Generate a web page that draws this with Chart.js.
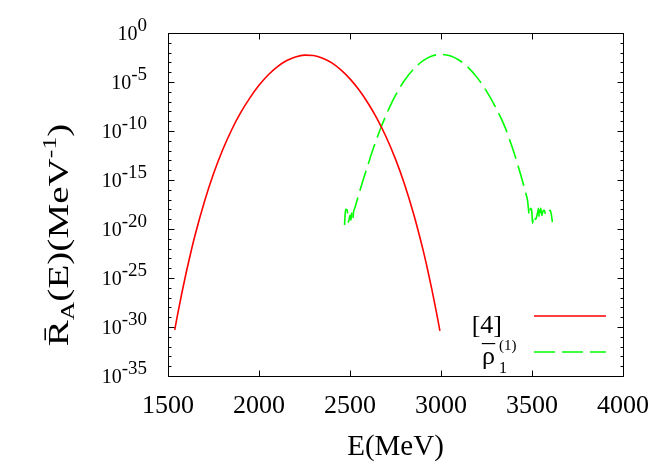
<!DOCTYPE html>
<html>
<head>
<meta charset="utf-8">
<script src="https://cdn.jsdelivr.net/npm/chart.js@4.4.1/dist/chart.umd.min.js"></script>
<style>
html,body{margin:0;padding:0;background:#ffffff;}
#wrap{width:664px;height:465px;position:relative;}
canvas{display:block;}
</style>
</head>
<body>
<div id="wrap"><canvas id="chart" width="664" height="465"></canvas></div>
<script>
// ---- data ----
// Series "[4]" (red, solid): energy in MeV and log10 of R(E)
const redE = [1537, 1550, 1575, 1600, 1625, 1650, 1700, 1750, 1800, 1850, 1900, 1950, 2000, 2050, 2100, 2150, 2200, 2250, 2300, 2350, 2400, 2450, 2500, 2550, 2600, 2650, 2700, 2750, 2800, 2850, 2900, 2925, 2950, 2975, 2994];
const redLog10 = [-30.29, -28.99, -26.63, -24.44, -22.42, -20.54, -17.22, -14.37, -11.94, -9.87, -8.11, -6.62, -5.34, -4.28, -3.45, -2.83, -2.44, -2.26, -2.30, -2.57, -3.05, -3.76, -4.68, -5.82, -7.19, -8.78, -10.66, -12.87, -15.45, -18.49, -22.03, -24.03, -26.18, -28.5, -30.39];

// Series rho-bar_1^(1) (green, dashed)
const greenE = [2470, 2472, 2476, 2484, 2492, 2500, 2505, 2510, 2516, 2520, 2527, 2540, 2553, 2575, 2600, 2625, 2650, 2675, 2700, 2725, 2750, 2775, 2800, 2850, 2900, 2950, 3000, 3050, 3100, 3150, 3200, 3250, 3300, 3350, 3375, 3400, 3425, 3450, 3462, 3475, 3486, 3492, 3499, 3503, 3510, 3520, 3530, 3536, 3540, 3548, 3554, 3560, 3568, 3576, 3590, 3600, 3607, 3612];
const greenLog10 = [-19.6, -18.9, -18.0, -18.05, -19.3, -18.6, -19.1, -18.3, -18.9, -18.2, -17.84, -16.99, -16.17, -14.82, -13.38, -11.95, -10.63, -9.42, -8.3, -7.28, -6.37, -5.55, -4.82, -3.67, -2.84, -2.35, -2.18, -2.33, -2.78, -3.53, -4.58, -5.93, -7.58, -9.53, -10.78, -12.15, -13.65, -15.26, -16.1, -17.03, -18.6, -17.9, -18.2, -19.4, -18.6, -19.0, -18.4, -17.9, -18.9, -17.9, -18.6, -18.2, -18.1, -18.6, -18.3, -18.1, -18.6, -19.3];

// Axis ticks
const xTicks = [1500, 2000, 2500, 3000, 3500, 4000];
const yMajorExponents = [0, -5, -10, -15, -20, -25, -30, -35];
const yMinorExponents = [];
for (let e = -34; e <= -1; e++) { if (e % 5 !== 0) yMinorExponents.push(e); }

// Texts
const seriesNames = ['[4]', 'ρ'];
const xTitle = 'E(MeV)';

// ---- chart ----
const SERIF = '"Liberation Serif", "Times New Roman", serif';

function toPoints(es, logs) {
  return es.map((e, i) => ({ x: e, y: Math.pow(10, logs[i]) }));
}

const decor = {
  id: 'decor',
  afterDraw(chart) {
    const ctx = chart.ctx;
    const a = chart.chartArea;
    const xs = chart.scales.x, ys = chart.scales.y;
    ctx.save();
    ctx.strokeStyle = '#000';
    ctx.lineWidth = 1;
    const L = Math.round(a.left) + 0.5, R = Math.round(a.right) + 0.5;
    const T = Math.round(a.top) + 0.5, B = Math.round(a.bottom) + 0.5;
    ctx.beginPath();
    ctx.rect(L, T, R - L, B - T);
    // x ticks (bottom and top, inward)
    xTicks.forEach(v => {
      const px = Math.round(xs.getPixelForValue(v)) + 0.5;
      ctx.moveTo(px, B); ctx.lineTo(px, B - 6);
      ctx.moveTo(px, T); ctx.lineTo(px, T + 6);
    });
    // y ticks
    const yt = (e, len) => {
      const py = Math.round(ys.getPixelForValue(Math.pow(10, e))) + 0.5;
      ctx.moveTo(L, py); ctx.lineTo(L + len, py);
      ctx.moveTo(R, py); ctx.lineTo(R - len, py);
    };
    yMajorExponents.forEach(e => yt(e, 6));
    yMinorExponents.forEach(e => yt(e, 3));
    ctx.stroke();

    ctx.fillStyle = '#000';
    // x tick labels
    ctx.font = '26px ' + SERIF;
    ctx.textAlign = 'center';
    ctx.textBaseline = 'alphabetic';
    xTicks.forEach(v => {
      ctx.fillText(String(v), xs.getPixelForValue(v), 413);
    });
    // y tick labels 10^e
    ctx.textAlign = 'left';
    yMajorExponents.forEach(e => {
      const py = ys.getPixelForValue(Math.pow(10, e));
      const ex = String(e);
      ctx.font = '19px ' + SERIF;
      const ew = ctx.measureText(ex).width;
      ctx.font = '20px ' + SERIF;
      const bw = ctx.measureText('10').width;
      const right = 147;
      ctx.fillText('10', right - ew - bw, py + 6.5);
      ctx.font = '19px ' + SERIF;
      ctx.fillText(ex, right - ew, py - 2);
    });
    // x title
    ctx.font = '29px ' + SERIF;
    ctx.textAlign = 'center';
    ctx.fillText(xTitle, (a.left + a.right) / 2, 455);

    // y title (rotated, stretched along its length like the reference)
    ctx.save();
    ctx.translate(68, 235);
    ctx.rotate(-Math.PI / 2);
    ctx.scale(1.35, 1);
    ctx.textAlign = 'left';
    const parts = [
      { t: 'R\u0304', f: 29, dy: 0 },
      { t: 'A', f: 19, dy: 6 },
      { t: '(E)(MeV', f: 29, dy: 0 },
      { t: '-1', f: 19, dy: -12 },
      { t: ')', f: 29, dy: 0 }
    ];
    let tot = 0;
    parts.forEach(p => { ctx.font = p.f + 'px ' + SERIF; p.w = ctx.measureText(p.t).width; tot += p.w; });
    let cx = -tot / 2;
    parts.forEach(p => { ctx.font = p.f + 'px ' + SERIF; ctx.fillText(p.t, cx, p.dy); cx += p.w; });
    ctx.restore();

    // legend
    const ds = chart.data.datasets;
    const lx0 = 534, lx1 = 606;
    const rows = [316, 352];
    ds.forEach((d, i) => {
      ctx.save();
      ctx.strokeStyle = d.borderColor;
      ctx.lineWidth = d.borderWidth;
      ctx.setLineDash(d.borderDash || []);
      ctx.beginPath();
      ctx.moveTo(lx0, rows[i]); ctx.lineTo(lx1, rows[i]);
      ctx.stroke();
      ctx.restore();
    });
    ctx.font = '26px ' + SERIF;
    ctx.textAlign = 'right';
    ctx.fillText(seriesNames[0], 502, 333);
    ctx.textAlign = 'left';
    ctx.font = '26px ' + SERIF;
    const rw = ctx.measureText(seriesNames[1]).width;
    ctx.fillText(seriesNames[1], 482, 364);
    ctx.textAlign = 'center';
    ctx.fillText('\u00AF', 482 + rw / 2, 362);
    ctx.textAlign = 'left';
    ctx.font = '16px ' + SERIF;
    ctx.fillText('1', 499, 373);
    ctx.font = '15px ' + SERIF;
    ctx.fillText('(1)', 499, 350);
    ctx.restore();
  }
};

new Chart(document.getElementById('chart'), {
  type: 'line',
  data: {
    datasets: [
      {
        label: seriesNames[0],
        data: toPoints(redE, redLog10),
        borderColor: '#ff0000',
        borderWidth: 1.6,
        pointRadius: 0,
        fill: false,
        cubicInterpolationMode: 'monotone'
      },
      {
        label: 'ρ\u0304(1)1',
        data: toPoints(greenE, greenLog10),
        borderColor: '#00ff00',
        borderWidth: 1.6,
        borderDash: [21, 7],
        pointRadius: 0,
        fill: false,
        cubicInterpolationMode: 'monotone'
      }
    ]
  },
  options: {
    responsive: false,
    animation: false,
    events: [],
    layout: { padding: { left: 168, right: 41, top: 33, bottom: 89 } },
    plugins: { legend: { display: false }, tooltip: { enabled: false }, title: { display: false } },
    scales: {
      x: { type: 'linear', min: 1500, max: 4000, display: false },
      y: { type: 'logarithmic', min: 1e-35, max: 1, display: false }
    }
  },
  plugins: [decor]
});
</script>
</body>
</html>
